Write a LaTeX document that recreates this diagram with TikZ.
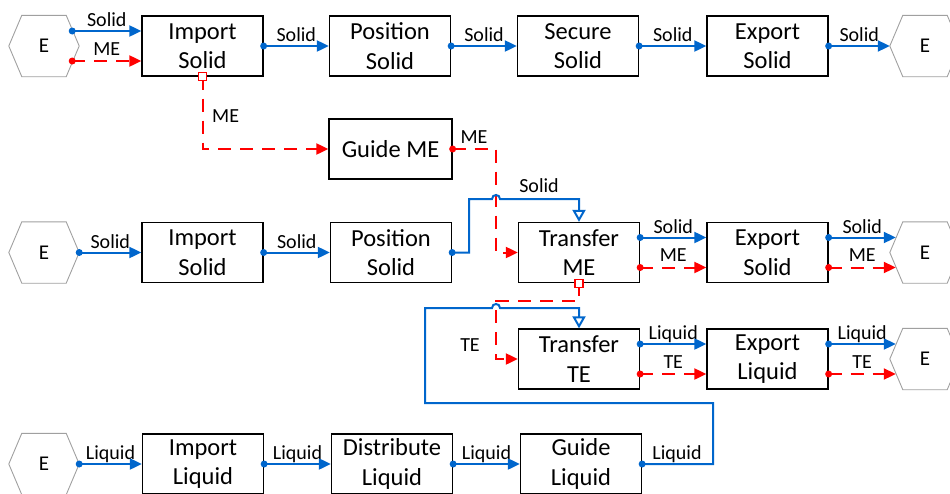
\documentclass[tikz,border=0pt]{standalone}
\usepackage{fontspec}
\setmainfont{Carlito}
\usetikzlibrary{arrows.meta,calc}
\definecolor{fblue}{RGB}{0,102,204}
\definecolor{fred}{RGB}{255,0,0}
\definecolor{hexgray}{RGB}{160,160,160}
\begin{document}
\begin{tikzpicture}[x=1pt,y=-1pt,
  fn/.style={draw=black, line width=1.3pt, minimum width=121pt, minimum height=60pt, inner sep=0pt, align=center, font=\fontsize{24.5}{29.5}\selectfont},
  hexn/.style={minimum width=70pt, minimum height=61pt, inner sep=0pt, font=\fontsize{21}{25}\selectfont},
  lab/.style={font=\fontsize{20}{24}\selectfont, inner sep=0pt, anchor=base},
  sflow/.style={draw=fblue, line width=2pt, -{Triangle[length=12pt,width=11pt]}},
  eflow/.style={draw=fred, line width=2pt, dash pattern=on 13pt off 9pt, -{Triangle[length=12pt,width=11pt]}},
  merge/.style={draw=fblue, line width=2pt, -{Triangle[open,fill=white,length=12pt,width=13pt]}},
  bdot/.style={fill=fblue},
  rdot/.style={fill=fred},
  sq/.style={draw=fred, line width=1.3pt, fill=white},
]
\useasboundingbox (0,0) rectangle (950,493);
\clip (0,0) rectangle (950,493);

% hexagons
\node[hexn] (e1) at (44,46) {E};
\node[hexn] (e3) at (44,252.5) {E};
\node[hexn] (e5) at (44,464) {E};
\node[hexn] (r1) at (925,46) {E};
\node[hexn] (r3) at (925,252.5) {E};
\node[hexn] (r4) at (925,359) {E};
\foreach \h in {e1,e3,e5,r1,r3,r4}
  \draw[hexgray, line width=0.9pt] (\h.west) -- ([xshift=13pt]\h.north west) -- ([xshift=-13pt]\h.north east) -- (\h.east) -- ([xshift=-13pt]\h.south east) -- ([xshift=13pt]\h.south west) -- cycle;

% row 1
\node[fn] (is1) at (202.5,46) {Import\\Solid};
\node[fn] (ps1) at (390,46) {Position\\Solid};
\node[fn] (ss1) at (578,46) {Secure\\Solid};
\node[fn] (es1) at (767.5,46) {Export\\Solid};
% row 2
\node[fn, minimum width=123pt] (gme) at (390.5,149) {Guide ME};
% row 3
\node[fn] (is3) at (202.5,252.5) {Import\\Solid};
\node[fn] (ps3) at (391,252.5) {Position\\Solid};
\node[fn] (tme) at (579,252.5) {Transfer\\ME};
\node[fn] (es3) at (767.5,252.5) {Export\\Solid};
% row 4
\node[fn] (tte) at (579,359) {Transfer\\TE};
\node[fn] (el4) at (767.5,359) {Export\\Liquid};
% row 5
\node[fn] (il5) at (203,464) {Import\\Liquid};
\node[fn] (dl5) at (392,464) {Distribute\\Liquid};
\node[fn] (gl5) at (581,464) {Guide\\Liquid};

\coordinate (vx) at (496,0);

% ---- row 1 flows
\draw[sflow] ([xshift=-7pt,yshift=15pt]e1.east) -- node[lab,yshift=4.5pt]{Solid} ([yshift=15pt]is1.west);
\draw[eflow] ([xshift=-7pt,yshift=-15pt]e1.east) -- node[lab,yshift=6pt]{ME} ([yshift=-15pt]is1.west);
\draw[sflow] (is1.east) -- node[lab,yshift=4.5pt]{Solid} (ps1.west);
\draw[sflow] (ps1.east) -- node[lab,yshift=4.5pt]{Solid} (ss1.west);
\draw[sflow] (ss1.east) -- node[lab,yshift=4.5pt]{Solid} (es1.west);
\draw[sflow] (es1.east) -- node[lab,yshift=4.5pt]{Solid} (r1.west);

% Import Solid -> Guide ME
\draw[eflow] (is1.south) |- (gme.west);
\node[lab, anchor=base west] at (212,122) {ME};
% Guide ME -> Transfer ME
\draw[eflow] (gme.east) -| (vx |- tme.west) -- (tme.west);
\node[lab] at (474,143) {ME};

% ---- row 3
\draw[sflow] (e3.east) -- node[lab,yshift=4.5pt]{Solid} (is3.west);
\draw[sflow] (is3.east) -- node[lab,yshift=4.5pt]{Solid} (ps3.west);
\draw[merge] (ps3.east) -- (469,252.5) -- (469,199) -- (492,199) .. controls (492,193.7) and (500,193.7) .. (500,199) -- (tme.north |- 0,199) -- (tme.north);
\node[lab] at (539,192) {Solid};
\draw[sflow] ([yshift=15pt]tme.east) -- node[lab,yshift=4.5pt]{Solid} ([yshift=15pt]es3.west);
\draw[eflow] ([yshift=-15pt]tme.east) -- node[lab,yshift=6pt]{ME} ([yshift=-15pt]es3.west);
\draw[sflow] ([yshift=15pt]es3.east) -- node[lab,yshift=4.5pt]{Solid} ([xshift=6pt,yshift=15pt]r3.west);
\draw[eflow] ([yshift=-15pt]es3.east) -- node[lab,yshift=6pt]{ME} ([xshift=6pt,yshift=-15pt]r3.west);

% Transfer ME -> Transfer TE
\draw[eflow] (tme.south) -- (tme.south |- 0,301) -- (vx |- 0,301) -- (vx |- tte.west) -- (tte.west);
\node[lab] at (470,351) {TE};

% ---- row 4
\draw[sflow] ([yshift=15pt]tte.east) -- node[lab,yshift=4.5pt]{Liquid} ([yshift=15pt]el4.west);
\draw[eflow] ([yshift=-15pt]tte.east) -- node[lab,yshift=6pt]{TE} ([yshift=-15pt]el4.west);
\draw[sflow] ([yshift=15pt]el4.east) -- node[lab,yshift=4.5pt]{Liquid} ([xshift=6pt,yshift=15pt]r4.west);
\draw[eflow] ([yshift=-15pt]el4.east) -- node[lab,yshift=6pt]{TE} ([xshift=6pt,yshift=-15pt]r4.west);

% ---- row 5
\draw[sflow] (e5.east) -- node[lab,yshift=4.5pt]{Liquid} (il5.west);
\draw[sflow] (il5.east) -- node[lab,yshift=4.5pt]{Liquid} (dl5.west);
\draw[sflow] (dl5.east) -- node[lab,yshift=4.5pt]{Liquid} (gl5.west);
\draw[merge] (gl5.east) -- (713,464) -- (713,403) -- (425,403) -- (425,308) -- (492,308) .. controls (492,302.7) and (500,302.7) .. (500,308) -- (tte.north |- 0,308) -- (tte.north);
\node[lab] at (677,459) {Liquid};

% ---- small squares
\draw[sq] ([shift={(-4pt,-4pt)}]is1.south) rectangle ([shift={(4pt,4pt)}]is1.south);
\draw[sq] ([shift={(-4pt,-4pt)}]tme.south) rectangle ([shift={(4pt,4pt)}]tme.south);

% ---- dots
\foreach \p in {is1.east,ps1.east,ss1.east,es1.east,e3.east,is3.east,ps3.east,e5.east,il5.east,dl5.east,gl5.east}
  \fill[bdot] (\p) circle[radius=3.5pt];
\fill[bdot] ([xshift=-7pt,yshift=15pt]e1.east) circle[radius=3.5pt];
\fill[rdot] ([xshift=-7pt,yshift=-15pt]e1.east) circle[radius=3.5pt];
\fill[rdot] (gme.east) circle[radius=3.5pt];
\foreach \p in {tme.east,es3.east,tte.east,el4.east} {
  \fill[bdot] ([yshift=15pt]\p) circle[radius=3.5pt];
  \fill[rdot] ([yshift=-15pt]\p) circle[radius=3.5pt];
}
\end{tikzpicture}
\end{document}
